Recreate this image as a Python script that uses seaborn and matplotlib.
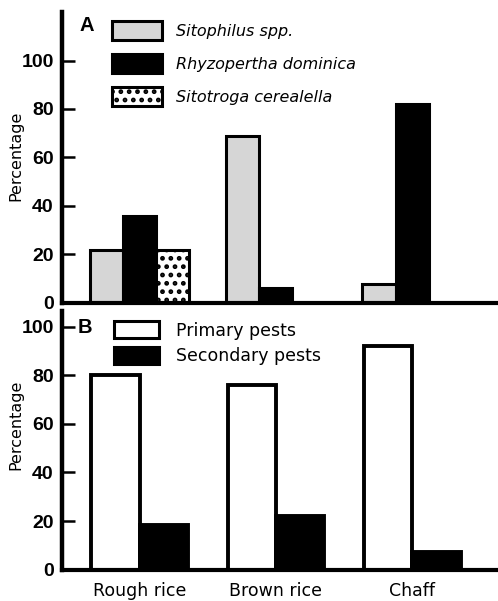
import matplotlib
matplotlib.use("Agg", force=True)
import matplotlib.pyplot as plt
import pandas as pd
import seaborn as sns
from matplotlib.patches import Patch

SUBSTRATES = ["Rough rice", "Brown rice", "Chaff"]

SPECIES = ["Sitophilus spp.", "Rhyzopertha dominica", "Sitotroga cerealella"]
SITOPHILUS = [22, 69, 8]
RHYZOPERTHA = [36, 6, 82]
SITOTROGA = [22, None, None]

PEST_TYPES = ["Primary pests", "Secondary pests"]
PRIMARY = [80, 76, 92]
SECONDARY = [18.5, 22, 7.5]

sns.set_style("ticks")
plt.rcParams["font.family"] = ["DejaVu Sans"]
plt.rcParams["hatch.linewidth"] = 2.2
for key in ["text.color", "axes.labelcolor", "xtick.color", "ytick.color", "axes.edgecolor"]:
    plt.rcParams[key] = "black"

df_a = pd.DataFrame({
    "substrate": SUBSTRATES * 3,
    "species": [s for s in SPECIES for _ in SUBSTRATES],
    "pct": SITOPHILUS + RHYZOPERTHA + SITOTROGA,
})
df_b = pd.DataFrame({
    "substrate": SUBSTRATES * 2,
    "type": [t for t in PEST_TYPES for _ in SUBSTRATES],
    "pct": PRIMARY + SECONDARY,
})

fig = plt.figure(figsize=(4.98, 6.01), dpi=100)
ax_a = fig.add_axes([0.1245, 0.496, 0.8755, 0.484])
ax_b = fig.add_axes([0.1245, 0.052, 0.8755, 0.431])

colors_a = ["#d6d6d6", "black", "white"]
sns.barplot(data=df_a, x="substrate", y="pct", hue="species", order=SUBSTRATES,
            hue_order=SPECIES, palette=colors_a, width=0.73, ax=ax_a,
            legend=False, errorbar=None, saturation=1)
for cont, col in zip(ax_a.containers, colors_a):
    for bar in cont:
        bar.set_edgecolor("black")
        bar.set_linewidth(2.2)
        if col == "white":
            bar.set_hatch("..")

colors_b = ["white", "black"]
sns.barplot(data=df_b, x="substrate", y="pct", hue="type", order=SUBSTRATES,
            hue_order=PEST_TYPES, palette=colors_b, width=0.71, ax=ax_b,
            legend=False, errorbar=None, saturation=1)
for cont in ax_b.containers:
    for bar in cont:
        bar.set_edgecolor("black")
        bar.set_linewidth(2.8)

tick_font = {"family": ["Liberation Sans", "DejaVu Sans"], "weight": "bold", "size": 14}
panel_font = {"family": ["Liberation Sans", "DejaVu Sans"], "weight": "bold", "size": 14.5}
for ax, top, label_y in [(ax_a, 120, 0.505), (ax_b, 106.5, 0.56)]:
    ax.set_xlim(-0.57, 2.63)
    ax.set_ylim(0, top)
    ax.set_yticks([0, 20, 40, 60, 80, 100])
    ax.set_yticklabels(["0", "20", "40", "60", "80", "100"], fontdict=tick_font)
    ax.tick_params(axis="y", direction="in", length=9, width=1.8, pad=6)
    ax.tick_params(axis="x", length=0)
    ax.set_ylabel("Percentage", fontsize=11.5)
    ax.yaxis.set_label_coords(-0.088, label_y)
    ax.set_xlabel("")
    sns.despine(ax=ax, top=True, right=True)
    ax.spines["left"].set_linewidth(3.2)
    ax.spines["bottom"].set_linewidth(3.0)

ax_a.set_xticklabels([])
ax_b.set_xticks(range(3))
ax_b.set_xticklabels(SUBSTRATES, fontsize=12.5)
ax_b.tick_params(axis="x", pad=8.5)

ax_a.text(0.04, 0.935, "A", transform=ax_a.transAxes, fontdict=panel_font)
ax_b.text(0.036, 0.915, "B", transform=ax_b.transAxes, fontdict=panel_font)

handles_a = [Patch(facecolor=c, edgecolor="black", linewidth=2.2, hatch=(".." if c == "white" else None))
             for c in colors_a]
ax_a.legend(handles_a, SPECIES, loc="upper left", bbox_to_anchor=(0.095, 1.0), frameon=False,
            prop={"style": "italic", "size": 11.5}, handlelength=3.1, handleheight=1.5,
            labelspacing=0.85, handletextpad=0.9, borderaxespad=0.15)

handles_b = [Patch(facecolor=c, edgecolor="black", linewidth=2.2) for c in colors_b]
ax_b.legend(handles_b, PEST_TYPES, loc="upper left", bbox_to_anchor=(0.095, 1.0), frameon=False,
            prop={"size": 12.5}, handlelength=2.6, handleheight=1.15,
            labelspacing=0.4, handletextpad=1.0, borderaxespad=0.2)

fig.savefig("out.png", dpi=100)
